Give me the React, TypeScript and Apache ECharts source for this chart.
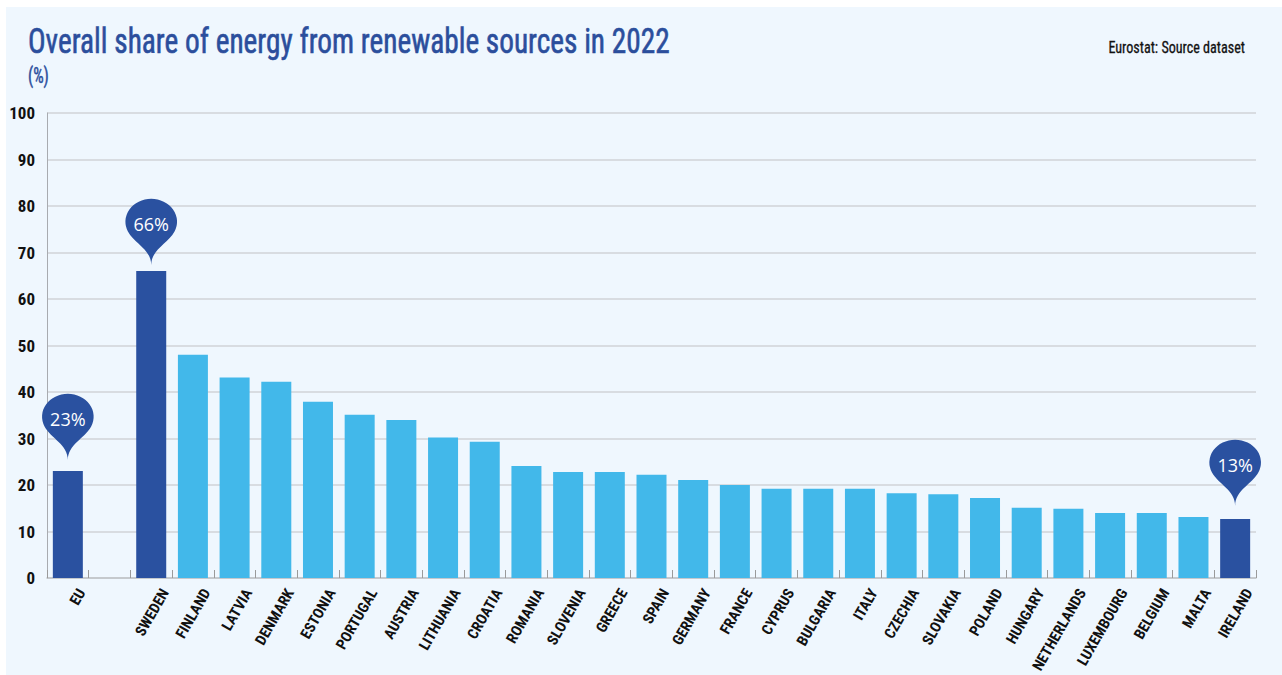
import React, { useEffect, useRef } from "react";
import * as echarts from "echarts";

const categories = [
  "EU", "", "SWEDEN", "FINLAND", "LATVIA", "DENMARK", "ESTONIA", "PORTUGAL", "AUSTRIA",
  "LITHUANIA", "CROATIA", "ROMANIA", "SLOVENIA", "GREECE", "SPAIN", "GERMANY", "FRANCE",
  "CYPRUS", "BULGARIA", "ITALY", "CZECHIA", "SLOVAKIA", "POLAND", "HUNGARY", "NETHERLANDS",
  "LUXEMBOURG", "BELGIUM", "MALTA", "IRELAND",
];
const values: (number | null)[] = [
  23.0, null, 66.0, 48.0, 43.1, 42.2, 37.9, 35.1, 34.0,
  30.2, 29.3, 24.1, 22.8, 22.8, 22.2, 21.1, 20.0,
  19.2, 19.2, 19.2, 18.2, 18.0, 17.2, 15.1, 14.9,
  14.0, 14.0, 13.1, 12.7,
];
const highlighted = ["EU", "SWEDEN", "IRELAND"];
const pinned = ["EU", "SWEDEN", "IRELAND"];
const pinOffsets = [-11, -6, -13];
const yTicks = { min: 0, max: 100, interval: 10 };

const TITLE = "Overall share of energy from renewable sources in 2022";
const SUBTITLE = "(%)";
const SOURCE = "Eurostat: Source dataset";

const NARROW = "'Roboto Condensed', 'Liberation Sans Narrow', 'DejaVu Sans Condensed', sans-serif";
const DARK = "#2a51a0";
const LIGHT = "#42b8ea";
const TITLE_BLUE = "#2b4e9c";

export default function App() {
  const ref = useRef<HTMLDivElement>(null);
  useEffect(() => {
    document.body.style.margin = "0";
    const chart = echarts.init(ref.current!, null, { renderer: "svg" });
    const barData = values.map((v, i) => ({
      value: v,
      itemStyle: { color: highlighted.includes(categories[i]) ? DARK : LIGHT },
    }));
    const pinData = pinned.map((c, k) => {
      const v = values[categories.indexOf(c)] as number;
      return {
        coord: [c, v],
        value: v,
        symbolOffset: [0, pinOffsets[k]],
        label: { formatter: Math.round(v) + "%" },
      };
    });
    chart.setOption({
      animation: false,
      backgroundColor: "#ffffff",
      graphic: [
        { type: "rect", z: -10, shape: { x: 6, y: 7, width: 1290, height: 680 }, style: { fill: "#eff7fe" } },
        {
          type: "text", x: 28, y: 41, scaleX: 0.838,
          style: { text: TITLE, font: `normal 35px ${NARROW}`, fill: TITLE_BLUE, stroke: TITLE_BLUE, lineWidth: 0.6, textVerticalAlign: "middle" },
        },
        {
          type: "text", x: 28, y: 76, scaleX: 0.75,
          style: { text: SUBTITLE, font: `normal 22px ${NARROW}`, fill: TITLE_BLUE, stroke: TITLE_BLUE, lineWidth: 0.5, textVerticalAlign: "middle" },
        },
        {
          type: "text", x: 1245, y: 48, scaleX: 0.83,
          style: { text: SOURCE, font: `normal 17px ${NARROW}`, fill: "#111111", stroke: "#111111", lineWidth: 0.3, textAlign: "right", textVerticalAlign: "middle" },
        },
      ],
      grid: { left: 47, right: 26, top: 113, bottom: 97, containLabel: false, outerBoundsMode: "none" },
      xAxis: {
        type: "category",
        data: categories,
        axisLine: { show: true, lineStyle: { color: "#bfc2c6", width: 1.5 } },
        axisTick: { show: true, inside: true, length: 8, alignWithLabel: false, interval: 0, lineStyle: { color: "#9a9a9a", width: 1 } },
        axisLabel: {
          interval: 0, rotate: 60, margin: 4, color: "#111111",
          fontFamily: NARROW, fontSize: 15, fontWeight: "bold", verticalAlign: "top", align: "right", lineHeight: 32,
        },
      },
      yAxis: {
        type: "value",
        min: yTicks.min, max: yTicks.max, interval: yTicks.interval,
        axisLine: { show: true, lineStyle: { color: "#a8abb0", width: 1 } },
        axisTick: { show: false },
        splitLine: { show: true, lineStyle: { color: "#d0d3d7", width: 1.5 } },
        axisLabel: { color: "#111111", fontFamily: NARROW, fontSize: 17, fontWeight: "bold", margin: 12 },
      },
      series: [
        {
          type: "bar",
          data: barData,
          barWidth: 30,
          markPoint: {
            symbol: "pin",
            symbolSize: [86, 76],
            symbolKeepAspect: false,
            itemStyle: { color: DARK },
            label: { show: true, color: "#ffffff", fontFamily: "'Open Sans', sans-serif", fontSize: 18, offset: [0, -1] },
            data: pinData,
          },
        },
      ],
    });
    return () => chart.dispose();
  }, []);
  return <div ref={ref} style={{ width: 1282, height: 675 }} />;
}
